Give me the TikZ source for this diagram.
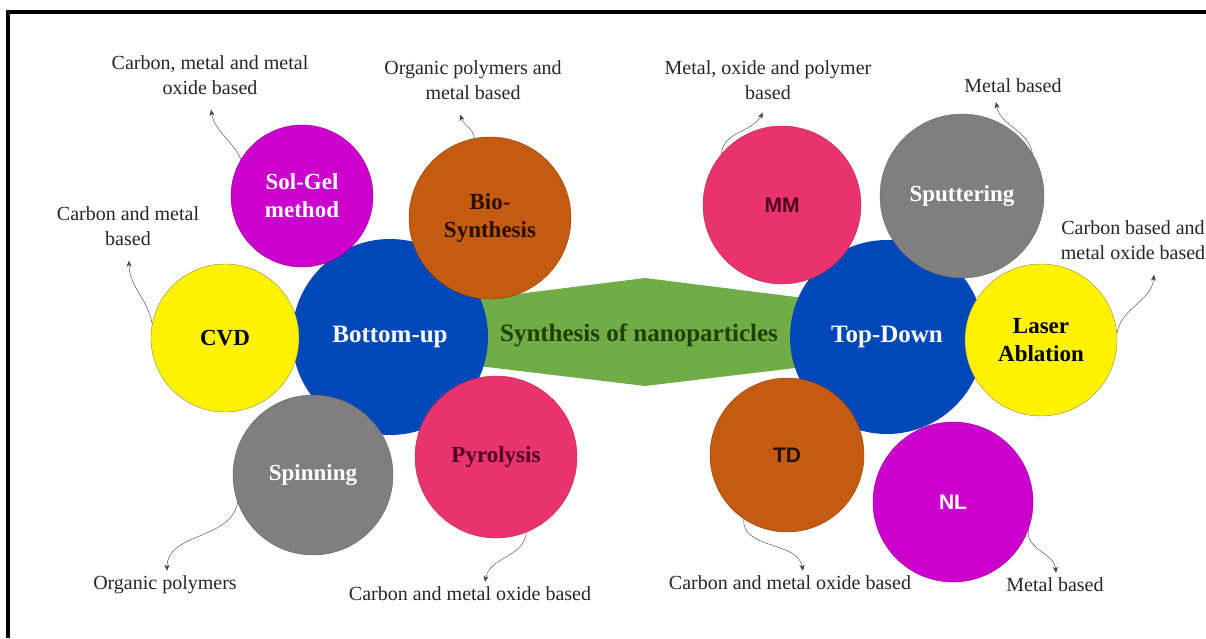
\documentclass[tikz,border=0pt]{standalone}
\usepackage{fontspec}
\setmainfont{Liberation Serif}
\newfontfamily\arialfont{Liberation Sans}
\usetikzlibrary{arrows.meta}

\definecolor{approachblue}{RGB}{0,71,186}
\definecolor{magentafill}{RGB}{204,0,204}
\definecolor{brownfill}{RGB}{197,90,17}
\definecolor{pinkfill}{RGB}{232,51,111}
\definecolor{grayfill}{RGB}{127,127,127}
\definecolor{greenfill}{RGB}{112,173,71}
\definecolor{darkmaroon}{RGB}{80,0,30}
\definecolor{darkbrown}{RGB}{40,15,0}
\definecolor{linkgray}{RGB}{60,60,60}

\begin{document}
\begin{tikzpicture}[x=1pt, y=1pt,
    approach/.style ={circle, fill=approachblue, inner sep=0pt, text=white,
      font=\fontsize{25}{30}\selectfont\bfseries},
    method/.style ={circle, draw, thin, inner sep=0pt, align=center,
      font=\fontsize{23}{28}\selectfont\bfseries},
    abbrev/.style ={method, font=\fontsize{21}{25}\arialfont\bfseries},
    note/.style ={align=center, inner sep=3pt, text=black!85,
      font=\fontsize{20}{25}\selectfont},
    link/.style ={linkgray, thin, -{Stealth[length=6pt,width=5pt]}}]
   \useasboundingbox (0,0) rectangle (1206,638);

   % frame
   \draw[line width=4pt] (8,0) -- (8,626) -- (1206,626);

   % centre hexagon
   \fill[greenfill] (470,338) -- (645,360) -- (820,338) -- (820,273)
     -- (645,252) -- (470,273) -- cycle;
   \node[font=\fontsize{25}{30}\selectfont\bfseries, text=darkbrown!80!green]
     (synth) at (639,303) {Synthesis of nanoparticles};

   \node[approach, minimum size=196pt] (bottomup) at (390,301) {Bottom-up};
   \node[approach, minimum size=194pt] (topdown)  at (887,301) {Top-Down};

   % bottom-up methods
   \node[method, minimum size=142pt, fill=magentafill, draw=magentafill!70!black, text=white]
     (solgel) at (302,442) {Sol-Gel\\method};
   \node[method, minimum size=162pt, fill=brownfill, draw=brownfill!70!black, text=darkbrown]
     (bio) at (490,420) {Bio-\\Synthesis};
   \node[method, minimum size=148pt, fill=yellow, draw=yellow!50!black, text=black]
     (cvd) at (225,300) {CVD};
   \node[method, minimum size=160pt, fill=grayfill, draw=grayfill!80!black, text=white]
     (spinning) at (313,163) {Spinning};
   \node[method, minimum size=162pt, fill=pinkfill, draw=pinkfill!80!black, text=darkmaroon]
     (pyrolysis) at (496,181) {Pyrolysis};

   % top-down methods
   \node[abbrev, minimum size=158pt, fill=pinkfill, draw=pinkfill!80!black, text=darkmaroon]
     (mm) at (782,433) {MM};
   \node[method, minimum size=164pt, fill=grayfill, draw=grayfill!80!black, text=white]
     (sputtering) at (962,442) {Sputtering};
   \node[method, minimum size=152pt, fill=yellow, draw=yellow!50!black, text=black]
     (laser) at (1041,298) {Laser\\Ablation};
   \node[abbrev, minimum size=154pt, fill=brownfill, draw=brownfill!70!black, text=darkbrown]
     (td) at (787,183) {TD};
   \node[abbrev, minimum size=160pt, fill=magentafill, draw=magentafill!70!black, text=white]
     (nl) at (953,136) {NL};

   % labels
   \node[note] (lblSolGel) at (210,563) {Carbon, metal and metal\\oxide based};
   \node[note] (lblBio)    at (473,558) {Organic polymers and\\metal based};
   \node[note] (lblCvd)    at (128,412) {Carbon and metal\\based};
   \node[note] (lblSpin)   at (165,53)  {Organic polymers};
   \node[note] (lblPyro)   at (470,44)  {Carbon and metal oxide based};
   \node[note] (lblMm)     at (768,558) {Metal, oxide and polymer\\based};
   \node[note] (lblSput)   at (1013,552) {Metal based};
   \node[note] (lblLaser)  at (1133,398) {Carbon based and\\metal oxide based};
   \node[note] (lblTd)     at (790,55)  {Carbon and metal oxide based};
   \node[note] (lblNl)     at (1055,53) {Metal based};

   % connectors
   \draw[link] (solgel.149) to[out=115, in=-80] ([xshift=1pt, yshift=-12pt]lblSolGel.south);
   \draw[link] (bio.101) to[out=100, in=-70] ([xshift=-13pt, yshift=-12pt]lblBio.south);
   \draw[link] (cvd.169) to[out=100, in=-90] ([xshift=1pt, yshift=-12pt]lblCvd.south);
   \draw[link] (spinning.200) to[out=-100, in=90] ([xshift=2pt, yshift=2pt]lblSpin.north);
   \draw[link] (pyrolysis.292) to[out=-95, in=80] ([xshift=15pt, yshift=2pt]lblPyro.north);
   \draw[link] (mm.140) to[out=85, in=-120] ([xshift=-5pt, yshift=-10pt]lblMm.south);
   \draw[link] (sputtering.31) to[out=100, in=-80] ([xshift=-17pt, yshift=-6pt]lblSput.south);
   \draw[link] (laser.5) to[out=80, in=-95] ([xshift=21pt, yshift=-12pt]lblLaser.south);
   \draw[link] (td.236) to[out=-95, in=100] ([xshift=13pt, yshift=2pt]lblTd.north);
   \draw[link] (nl.340) to[out=-100, in=95] ([xshift=1pt, yshift=2pt]lblNl.north);

 \end{tikzpicture}
\end{document}
